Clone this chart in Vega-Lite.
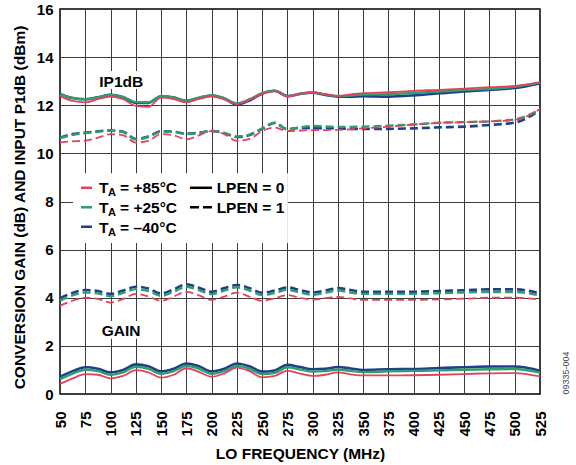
{
  "$schema": "https://vega.github.io/schema/vega-lite/v6.json",
  "width": 480,
  "height": 385,
  "autosize": {"type": "none"},
  "padding": {"left": 60, "top": 9, "right": 36, "bottom": 71},
  "config": {
    "font": "Liberation Sans",
    "view": {"stroke": "#000", "strokeWidth": 1.5},
    "axis": {
      "grid": true, "gridColor": "#3c3c3c", "gridWidth": 1, "gridOpacity": 1,
      "domain": false, "ticks": false, "tickSize": 0,
      "labelFont": "Liberation Sans", "labelFontSize": 15, "labelFontWeight": "bold", "labelColor": "#000",
      "titleFont": "Liberation Sans", "titleFontSize": 15.5, "titleFontWeight": "bold", "titleColor": "#000"
    }
  },
  "data": {
    "values": [
      {"f":50,"ip0_b":12.47,"ip0_g":12.45,"ip0_r":12.38,"ip1_b":10.65,"ip1_g":10.63,"ip1_r":10.46,"g0_b":0.72,"g0_g":0.62,"g0_r":0.42,"g1_b":3.98,"g1_g":3.88,"g1_r":3.66},
      {"f":62.5,"ip0_b":12.3,"ip0_g":12.3,"ip0_r":12.18,"ip1_b":10.8,"ip1_g":10.77,"ip1_r":10.5,"g0_b":0.95,"g0_g":0.85,"g0_r":0.65,"g1_b":4.2,"g1_g":4.1,"g1_r":3.88},
      {"f":75,"ip0_b":12.25,"ip0_g":12.25,"ip0_r":12.12,"ip1_b":10.86,"ip1_g":10.84,"ip1_r":10.53,"g0_b":1.11,"g0_g":1.01,"g0_r":0.83,"g1_b":4.32,"g1_g":4.22,"g1_r":4.0},
      {"f":87.5,"ip0_b":12.33,"ip0_g":12.33,"ip0_r":12.25,"ip1_b":10.92,"ip1_g":10.9,"ip1_r":10.65,"g0_b":1.05,"g0_g":0.95,"g0_r":0.8,"g1_b":4.28,"g1_g":4.18,"g1_r":3.95},
      {"f":100,"ip0_b":12.43,"ip0_g":12.43,"ip0_r":12.36,"ip1_b":10.95,"ip1_g":10.94,"ip1_r":10.8,"g0_b":0.9,"g0_g":0.8,"g0_r":0.65,"g1_b":4.16,"g1_g":4.06,"g1_r":3.8},
      {"f":112.5,"ip0_b":12.33,"ip0_g":12.35,"ip0_r":12.25,"ip1_b":10.9,"ip1_g":10.88,"ip1_r":10.75,"g0_b":1.0,"g0_g":0.9,"g0_r":0.75,"g1_b":4.3,"g1_g":4.2,"g1_r":3.95},
      {"f":125,"ip0_b":12.1,"ip0_g":12.13,"ip0_r":11.97,"ip1_b":10.6,"ip1_g":10.58,"ip1_r":10.45,"g0_b":1.23,"g0_g":1.13,"g0_r":0.99,"g1_b":4.46,"g1_g":4.36,"g1_r":4.16},
      {"f":137.5,"ip0_b":12.1,"ip0_g":12.12,"ip0_r":11.93,"ip1_b":10.7,"ip1_g":10.68,"ip1_r":10.52,"g0_b":1.15,"g0_g":1.05,"g0_r":0.9,"g1_b":4.38,"g1_g":4.28,"g1_r":4.05},
      {"f":150,"ip0_b":12.37,"ip0_g":12.38,"ip0_r":12.32,"ip1_b":10.92,"ip1_g":10.9,"ip1_r":10.8,"g0_b":0.94,"g0_g":0.84,"g0_r":0.68,"g1_b":4.18,"g1_g":4.08,"g1_r":3.87},
      {"f":162.5,"ip0_b":12.32,"ip0_g":12.33,"ip0_r":12.26,"ip1_b":10.9,"ip1_g":10.9,"ip1_r":10.75,"g0_b":1.05,"g0_g":0.95,"g0_r":0.8,"g1_b":4.35,"g1_g":4.25,"g1_r":4.05},
      {"f":175,"ip0_b":12.18,"ip0_g":12.19,"ip0_r":12.12,"ip1_b":10.82,"ip1_g":10.8,"ip1_r":10.58,"g0_b":1.27,"g0_g":1.17,"g0_r":1.07,"g1_b":4.56,"g1_g":4.46,"g1_r":4.25},
      {"f":187.5,"ip0_b":12.3,"ip0_g":12.32,"ip0_r":12.26,"ip1_b":10.86,"ip1_g":10.85,"ip1_r":10.75,"g0_b":1.15,"g0_g":1.05,"g0_r":0.92,"g1_b":4.42,"g1_g":4.32,"g1_r":4.1},
      {"f":200,"ip0_b":12.4,"ip0_g":12.42,"ip0_r":12.37,"ip1_b":10.93,"ip1_g":10.93,"ip1_r":10.93,"g0_b":0.94,"g0_g":0.84,"g0_r":0.72,"g1_b":4.25,"g1_g":4.15,"g1_r":3.91},
      {"f":212.5,"ip0_b":12.28,"ip0_g":12.3,"ip0_r":12.24,"ip1_b":10.84,"ip1_g":10.85,"ip1_r":10.8,"g0_b":1.05,"g0_g":0.95,"g0_r":0.85,"g1_b":4.4,"g1_g":4.3,"g1_r":4.05},
      {"f":225,"ip0_b":12.03,"ip0_g":12.08,"ip0_r":12.05,"ip1_b":10.68,"ip1_g":10.7,"ip1_r":10.52,"g0_b":1.27,"g0_g":1.17,"g0_r":1.1,"g1_b":4.53,"g1_g":4.43,"g1_r":4.21},
      {"f":237.5,"ip0_b":12.2,"ip0_g":12.25,"ip0_r":12.22,"ip1_b":10.76,"ip1_g":10.78,"ip1_r":10.6,"g0_b":1.15,"g0_g":1.05,"g0_r":0.95,"g1_b":4.4,"g1_g":4.3,"g1_r":4.05},
      {"f":250,"ip0_b":12.48,"ip0_g":12.5,"ip0_r":12.48,"ip1_b":11.02,"ip1_g":11.04,"ip1_r":10.93,"g0_b":0.93,"g0_g":0.83,"g0_r":0.69,"g1_b":4.21,"g1_g":4.11,"g1_r":3.87},
      {"f":262.5,"ip0_b":12.6,"ip0_g":12.6,"ip0_r":12.58,"ip1_b":11.26,"ip1_g":11.28,"ip1_r":11.07,"g0_b":0.98,"g0_g":0.88,"g0_r":0.75,"g1_b":4.3,"g1_g":4.2,"g1_r":3.98},
      {"f":275,"ip0_b":12.38,"ip0_g":12.38,"ip0_r":12.37,"ip1_b":11.0,"ip1_g":11.0,"ip1_r":10.93,"g0_b":1.21,"g0_g":1.11,"g0_r":0.97,"g1_b":4.43,"g1_g":4.33,"g1_r":4.11},
      {"f":287.5,"ip0_b":12.47,"ip0_g":12.48,"ip0_r":12.47,"ip1_b":11.06,"ip1_g":11.08,"ip1_r":10.95,"g0_b":1.12,"g0_g":1.02,"g0_r":0.85,"g1_b":4.32,"g1_g":4.22,"g1_r":4.0},
      {"f":300,"ip0_b":12.52,"ip0_g":12.53,"ip0_r":12.54,"ip1_b":11.05,"ip1_g":11.14,"ip1_r":10.97,"g0_b":1.03,"g0_g":0.93,"g0_r":0.75,"g1_b":4.22,"g1_g":4.12,"g1_r":3.92},
      {"f":312.5,"ip0_b":12.43,"ip0_g":12.45,"ip0_r":12.46,"ip1_b":11.05,"ip1_g":11.12,"ip1_r":10.97,"g0_b":1.05,"g0_g":0.95,"g0_r":0.8,"g1_b":4.3,"g1_g":4.2,"g1_r":3.98},
      {"f":325,"ip0_b":12.36,"ip0_g":12.38,"ip0_r":12.39,"ip1_b":11.04,"ip1_g":11.1,"ip1_r":10.98,"g0_b":1.12,"g0_g":1.02,"g0_r":0.9,"g1_b":4.4,"g1_g":4.3,"g1_r":4.04},
      {"f":337.5,"ip0_b":12.36,"ip0_g":12.4,"ip0_r":12.45,"ip1_b":11.02,"ip1_g":11.1,"ip1_r":11.0,"g0_b":1.06,"g0_g":0.96,"g0_r":0.82,"g1_b":4.32,"g1_g":4.22,"g1_r":3.97},
      {"f":350,"ip0_b":12.38,"ip0_g":12.44,"ip0_r":12.5,"ip1_b":11.01,"ip1_g":11.11,"ip1_r":11.04,"g0_b":1.0,"g0_g":0.91,"g0_r":0.77,"g1_b":4.25,"g1_g":4.16,"g1_r":3.91},
      {"f":375,"ip0_b":12.36,"ip0_g":12.46,"ip0_r":12.54,"ip1_b":11.02,"ip1_g":11.15,"ip1_r":11.11,"g0_b":1.03,"g0_g":0.94,"g0_r":0.77,"g1_b":4.25,"g1_g":4.16,"g1_r":3.91},
      {"f":400,"ip0_b":12.41,"ip0_g":12.51,"ip0_r":12.6,"ip1_b":11.04,"ip1_g":11.2,"ip1_r":11.2,"g0_b":1.04,"g0_g":0.96,"g0_r":0.78,"g1_b":4.25,"g1_g":4.16,"g1_r":3.91},
      {"f":425,"ip0_b":12.5,"ip0_g":12.57,"ip0_r":12.64,"ip1_b":11.08,"ip1_g":11.27,"ip1_r":11.27,"g0_b":1.08,"g0_g":0.98,"g0_r":0.8,"g1_b":4.28,"g1_g":4.19,"g1_r":3.93},
      {"f":450,"ip0_b":12.57,"ip0_g":12.63,"ip0_r":12.69,"ip1_b":11.11,"ip1_g":11.3,"ip1_r":11.3,"g0_b":1.11,"g0_g":1.01,"g0_r":0.83,"g1_b":4.31,"g1_g":4.22,"g1_r":3.96},
      {"f":475,"ip0_b":12.64,"ip0_g":12.68,"ip0_r":12.75,"ip1_b":11.18,"ip1_g":11.33,"ip1_r":11.33,"g0_b":1.14,"g0_g":1.03,"g0_r":0.86,"g1_b":4.35,"g1_g":4.24,"g1_r":4.0},
      {"f":500,"ip0_b":12.72,"ip0_g":12.77,"ip0_r":12.8,"ip1_b":11.28,"ip1_g":11.41,"ip1_r":11.39,"g0_b":1.14,"g0_g":1.04,"g0_r":0.87,"g1_b":4.35,"g1_g":4.24,"g1_r":4.0},
      {"f":525,"ip0_b":12.91,"ip0_g":12.94,"ip0_r":12.96,"ip1_b":11.8,"ip1_g":11.83,"ip1_r":11.84,"g0_b":0.97,"g0_g":0.89,"g0_r":0.73,"g1_b":4.18,"g1_g":4.09,"g1_r":3.93}
    ]
  },
  "encoding": {
    "x": {
      "field": "f", "type": "quantitative",
      "scale": {"domain": [50, 525], "nice": false, "zero": false},
      "axis": {
        "title": "LO FREQUENCY (MHz)",
        "values": [50,75,100,125,150,175,200,225,250,275,300,325,350,375,400,425,450,475,500,525],
        "labelAngle": 270, "labelPadding": 17, "labelFlush": false, "labelOverlap": false,
        "titleX": 240, "titleY": 64, "titleBaseline": "alphabetic", "titleAlign": "center"
      }
    },
    "y": {
      "field": "v", "type": "quantitative",
      "scale": {"domain": [0, 16], "nice": false},
      "axis": {
        "title": "CONVERSION GAIN (dB) AND INPUT P1dB (dBm)",
        "values": [0,2,4,6,8,10,12,14,16],
        "labelPadding": 7, "labelFlush": false,
        "titleX": -36, "titleY": 198, "titleAngle": 270, "titleBaseline": "alphabetic", "titleAlign": "center"
      }
    }
  },
  "layer": [
    {
      "data": {"values": [
        {"f": 62.9, "f2": 275.5, "v": 6.28, "v2": 9.17},
        {"f": 86.6, "f2": 135, "v": 12.68, "v2": 13.42},
        {"f": 88.6, "f2": 132, "v": 2.3, "v2": 3.03}
      ]},
      "mark": {"type": "rect", "color": "#ffffff"},
      "encoding": {"x2": {"field": "f2"}, "y2": {"field": "v2"}}
    },
    {
      "transform": [{"fold": ["ip0_b", "g0_b"], "as": ["k", "v"]}],
      "mark": {"type": "line", "color": "#1E3F8C", "strokeWidth": 2.6, "interpolate": "monotone"},
      "encoding": {"detail": {"field": "k"}}
    },
    {
      "transform": [{"fold": ["ip1_b", "g1_b"], "as": ["k", "v"]}],
      "mark": {"type": "line", "color": "#1E3F8C", "strokeWidth": 2.6, "strokeDash": [8, 4], "interpolate": "monotone"},
      "encoding": {"detail": {"field": "k"}}
    },
    {
      "transform": [{"fold": ["ip0_g", "g0_g"], "as": ["k", "v"]}],
      "mark": {"type": "line", "color": "#2F9E6A", "strokeWidth": 2.4, "interpolate": "monotone"},
      "encoding": {"detail": {"field": "k"}}
    },
    {
      "transform": [{"fold": ["ip1_g", "g1_g"], "as": ["k", "v"]}],
      "mark": {"type": "line", "color": "#2F9E6A", "strokeWidth": 2.4, "strokeDash": [8, 4], "interpolate": "monotone"},
      "encoding": {"detail": {"field": "k"}}
    },
    {
      "transform": [{"fold": ["ip0_r", "g0_r"], "as": ["k", "v"]}],
      "mark": {"type": "line", "color": "#E5405F", "strokeWidth": 1.8, "interpolate": "monotone"},
      "encoding": {"detail": {"field": "k"}}
    },
    {
      "transform": [{"fold": ["ip1_r", "g1_r"], "as": ["k", "v"]}],
      "mark": {"type": "line", "color": "#E5405F", "strokeWidth": 1.8, "strokeDash": [8, 4], "interpolate": "monotone"},
      "encoding": {"detail": {"field": "k"}}
    },
    {
      "data": {"values": [
        {"s": "+85", "f": 70.8, "f2": 81.7, "v": 8.57},
        {"s": "+25", "f": 70.8, "f2": 81.7, "v": 7.76},
        {"s": "-40", "f": 70.8, "f2": 81.7, "v": 6.95}
      ]},
      "mark": {"type": "rule", "strokeWidth": 2.5},
      "encoding": {
        "x2": {"field": "f2"},
        "color": {"field": "s", "type": "nominal", "scale": {"domain": ["+85", "+25", "-40"], "range": ["#E5405F", "#2F9E6A", "#1E3F8C"]}, "legend": null}
      }
    },
    {
      "data": {"values": [{"f": 178.6, "f2": 200.4, "v": 8.57}]},
      "mark": {"type": "rule", "strokeWidth": 2.5, "color": "#000"},
      "encoding": {"x2": {"field": "f2"}}
    },
    {
      "data": {"values": [{"f": 178.6, "f2": 200.4, "v": 7.76}]},
      "mark": {"type": "rule", "strokeWidth": 2.5, "color": "#000", "strokeDash": [9, 4]},
      "encoding": {"x2": {"field": "f2"}}
    },
    {
      "data": {"values": [
        {"f": 88.6, "v": 8.34, "txt": "T"},
        {"f": 88.6, "v": 7.54, "txt": "T"},
        {"f": 88.6, "v": 6.70, "txt": "T"},
        {"f": 109.4, "v": 8.34, "txt": "= +85°C"},
        {"f": 109.4, "v": 7.54, "txt": "= +25°C"},
        {"f": 109.4, "v": 6.70, "txt": "= –40°C"},
        {"f": 205, "v": 8.34, "txt": "LPEN = 0"},
        {"f": 205, "v": 7.54, "txt": "LPEN = 1"},
        {"f": 88.9, "v": 12.77, "txt": "IP1dB"},
        {"f": 91.3, "v": 2.41, "txt": "GAIN"}
      ]},
      "mark": {"type": "text", "align": "left", "baseline": "alphabetic", "fontSize": 15.5, "fontWeight": "bold", "color": "#000"},
      "encoding": {"text": {"field": "txt"}}
    },
    {
      "data": {"values": [
        {"f": 97.5, "v": 8.34, "txt": "A"},
        {"f": 97.5, "v": 7.54, "txt": "A"},
        {"f": 97.5, "v": 6.70, "txt": "A"}
      ]},
      "mark": {"type": "text", "align": "left", "baseline": "alphabetic", "fontSize": 11, "fontWeight": "bold", "color": "#000", "dy": 3},
      "encoding": {"text": {"field": "txt"}}
    },
    {
      "data": {"values": [{"f": 550.7, "v": 0.87, "txt": "09335-004"}]},
      "mark": {"type": "text", "align": "center", "baseline": "middle", "angle": 270, "fontSize": 9, "color": "#444"},
      "encoding": {"text": {"field": "txt"}}
    }
  ]
}
